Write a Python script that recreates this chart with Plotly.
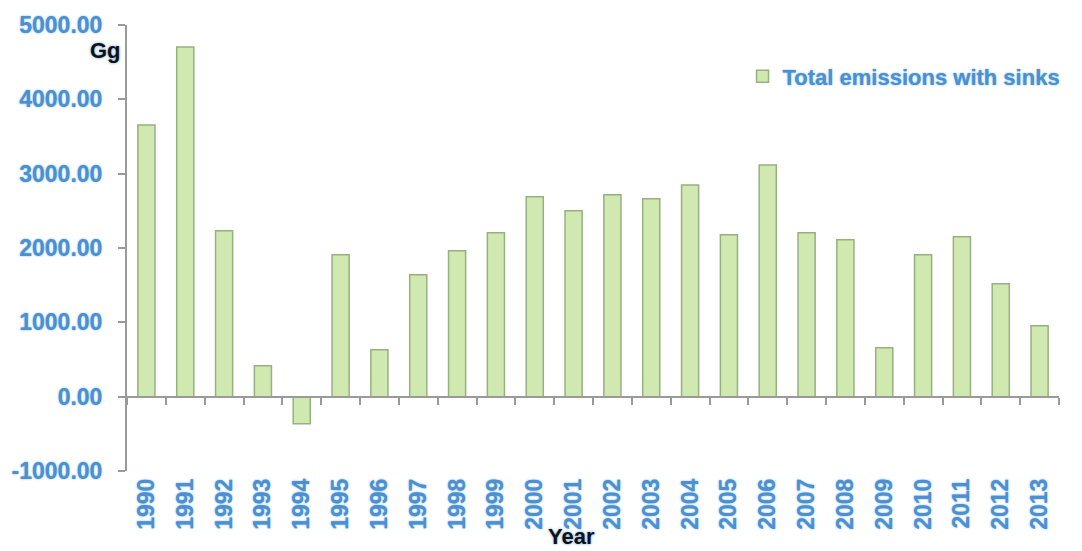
import plotly.graph_objects as go

years = [str(y) for y in range(1990, 2014)]
emissions = [3656, 4704, 2231, 417, -363, 1909, 632, 1640, 1962, 2204,
             2688, 2500, 2715, 2661, 2849, 2177, 3118, 2204, 2110, 659,
             1909, 2150, 1519, 954]
y_ticks = [-1000, 0, 1000, 2000, 3000, 4000, 5000]
y_tick_labels = [f"{v:.2f}" for v in y_ticks]

blue = "#4a90d2"
shadow = "0px 0px 2px #6aa8e0"
FAM = "Liberation Sans, Arial, sans-serif"
fnt = dict(family=FAM, size=23, color=blue, weight="bold", shadow=shadow)
legfnt = dict(family=FAM, size=22, color=blue, weight="bold", shadow=shadow)
dark = dict(family=FAM, size=22, color="#111111", weight="bold", shadow="0px 0px 3px #5b9bd5")

fig = go.Figure()
fig.add_trace(go.Bar(
    x=years, y=emissions, name="Total emissions with sinks",
    marker=dict(color="#d0e9b0", line=dict(color="#97b07f", width=1.5)),
    xaxis="x", yaxis="y",
))
# helper trace so the zero-line axis with boundary ticks renders
fig.add_trace(go.Bar(
    x=years, y=emissions, showlegend=False, opacity=0, hoverinfo="skip",
    xaxis="x2", yaxis="y",
))

fig.update_layout(
    width=1082, height=551,
    margin=dict(l=119, r=31, t=17, b=88, autoexpand=False),
    plot_bgcolor="white", paper_bgcolor="white",
    bargap=0.56, barmode="overlay",
    showlegend=True,
    legend=dict(x=1.007, y=0.932, xanchor="right", yanchor="top",
                font=legfnt, bgcolor="rgba(0,0,0,0)", itemwidth=30),
    xaxis=dict(
        type="category", showline=False, ticks="", showgrid=False,
        tickangle=-90, tickfont=fnt, ticklabelstandoff=2, automargin=False,
    ),
    xaxis2=dict(
        type="category", overlaying="x", anchor="free", position=1/6,
        showline=True, linecolor="#9a9a9a", linewidth=2,
        ticks="outside", tickson="boundaries", ticklen=7, tickcolor="#9a9a9a", tickwidth=2,
        showticklabels=False, showgrid=False, matches="x",
    ),
    yaxis=dict(
        range=[-1000, 5000], tickvals=y_ticks, ticktext=y_tick_labels,
        showline=True, linecolor="#9a9a9a", linewidth=2,
        ticks="outside", ticklen=7, tickcolor="#9a9a9a", tickwidth=2, automargin=False,
        showgrid=False, zeroline=False, tickfont=fnt, ticklabelstandoff=11,
    ),
    annotations=[
        dict(text="Gg", xref="paper", yref="y", x=0, y=4660, xanchor="right", yanchor="middle",
             xshift=-4, showarrow=False, font=dict(dark)),
        dict(text="Year", xref="paper", yref="paper", x=0.477, y=0, xanchor="center", yanchor="middle",
             yshift=-65, showarrow=False, font=dict(dark)),
    ],
)

fig.write_html("out.html")
